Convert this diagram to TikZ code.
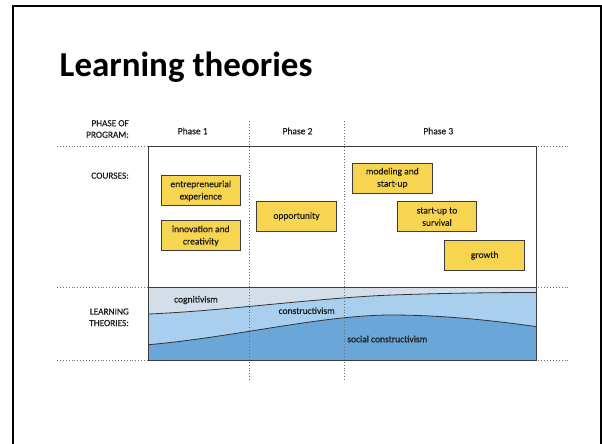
\documentclass[tikz,border=0pt]{standalone}
\usepackage{fontspec}
\setmainfont{Carlito}
\newfontfamily\semib[FakeBold=0.6]{Carlito}
\definecolor{boxyellow}{RGB}{248,213,80}
\definecolor{boxedge}{RGB}{60,60,60}
\definecolor{txt}{RGB}{30,30,30}
\definecolor{cogn}{RGB}{211,222,232}
\definecolor{constr}{RGB}{168,207,238}
\definecolor{social}{RGB}{106,167,216}
\definecolor{gridgray}{RGB}{110,110,110}
\tikzset{
  course/.style={draw=boxedge, line width=1pt, fill=boxyellow, minimum width=79.5pt, minimum height=30pt,
    inner sep=0pt, align=center, text=txt, font=\semib\fontsize{9.5}{12.3}\selectfont},
  rowlabel/.style={anchor=east, align=right, text=txt, inner sep=0pt, font=\semib\fontsize{9.3}{11.5}\selectfont},
  phaselabel/.style={text=txt, inner sep=0pt, font=\semib\fontsize{9.5}{11.5}\selectfont},
  theory/.style={text=txt, inner sep=0pt, font=\semib\fontsize{9.5}{11.5}\selectfont},
  gridline/.style={gridgray, line width=0.9pt, dotted},
  boxline/.style={boxedge, line width=0.9pt},
  curveline/.style={black!80, line width=0.8pt}
}
\begin{document}
\begin{tikzpicture}[x=1pt,y=-1pt]
\useasboundingbox (0,0) rectangle (602,444);
% outer frame
\draw[line width=2pt] (13,446) -- (13,6) -- (600.5,6) -- (600.5,446);
% title
\node[anchor=base west, inner sep=0pt, font=\fontsize{35}{42}\selectfont\bfseries] (title) at (59.5,76.5) {Learning theories};

% learning band fills
\def\curveA{(148.7,314) .. controls (220,311) and (300,300) .. (380,295.5) .. controls (440,293) and (500,292.5) .. (536.7,292.5)}
\def\curveB{(148.7,344.7) .. controls (235,337) and (320,315.5) .. (390,315) .. controls (440,315) and (490,320) .. (536.7,326.7)}
\fill[cogn] (148.7,287.3) rectangle (536.7,360.3);
\fill[constr] \curveA -- (536.7,360.3) -- (148.7,360.3) -- cycle;
\fill[social] \curveB -- (536.7,360.3) -- (148.7,360.3) -- cycle;
\draw[curveline] \curveA;
\draw[curveline] \curveB;

% grid lines
\foreach \yy in {146.7,287.3,360.3} \draw[gridline] (57,\yy) -- (569,\yy);
\foreach \xx in {249,344} \draw[gridline] (\xx,121) -- (\xx,382);
% main box
\draw[boxline] (148.7,146.7) rectangle (536.7,360.3);
\draw[boxline] (148.7,287.3) -- (536.7,287.3);

% row labels
\node[rowlabel] (phaseof) at (129,129) {PHASE OF\\PROGRAM:};
\node[rowlabel] (courses) at (129,175.7) {COURSES:};
\node[rowlabel] (learning) at (129,317.3) {LEARNING\\THEORIES:};

% phase labels
\node[phaselabel] (p1) at (192.7,131) {Phase 1};
\node[phaselabel] (p2) at (297.5,131) {Phase 2};
\node[phaselabel] (p3) at (438.3,131) {Phase 3};

% courses
\node[course] (entre) at (200.8,190.8) {entrepreneurial\\experience};
\node[course] (innov) at (200.8,235.8) {innovation and\\creativity};
\node[course] (opp) at (296.5,216.3) {opportunity};
\node[course] (model) at (392.3,178) {modeling and\\start-up};
\node[course] (surv) at (437,216.7) {start-up to\\survival};
\node[course] (growth) at (484.7,255.5) {growth};

% theory labels
\node[theory] (cog) at (196,300) {cognitivism};
\node[theory] (con) at (306.7,310.7) {constructivism};
\node[theory] (soc) at (387.3,339) {social constructivism};
\end{tikzpicture}
\end{document}
